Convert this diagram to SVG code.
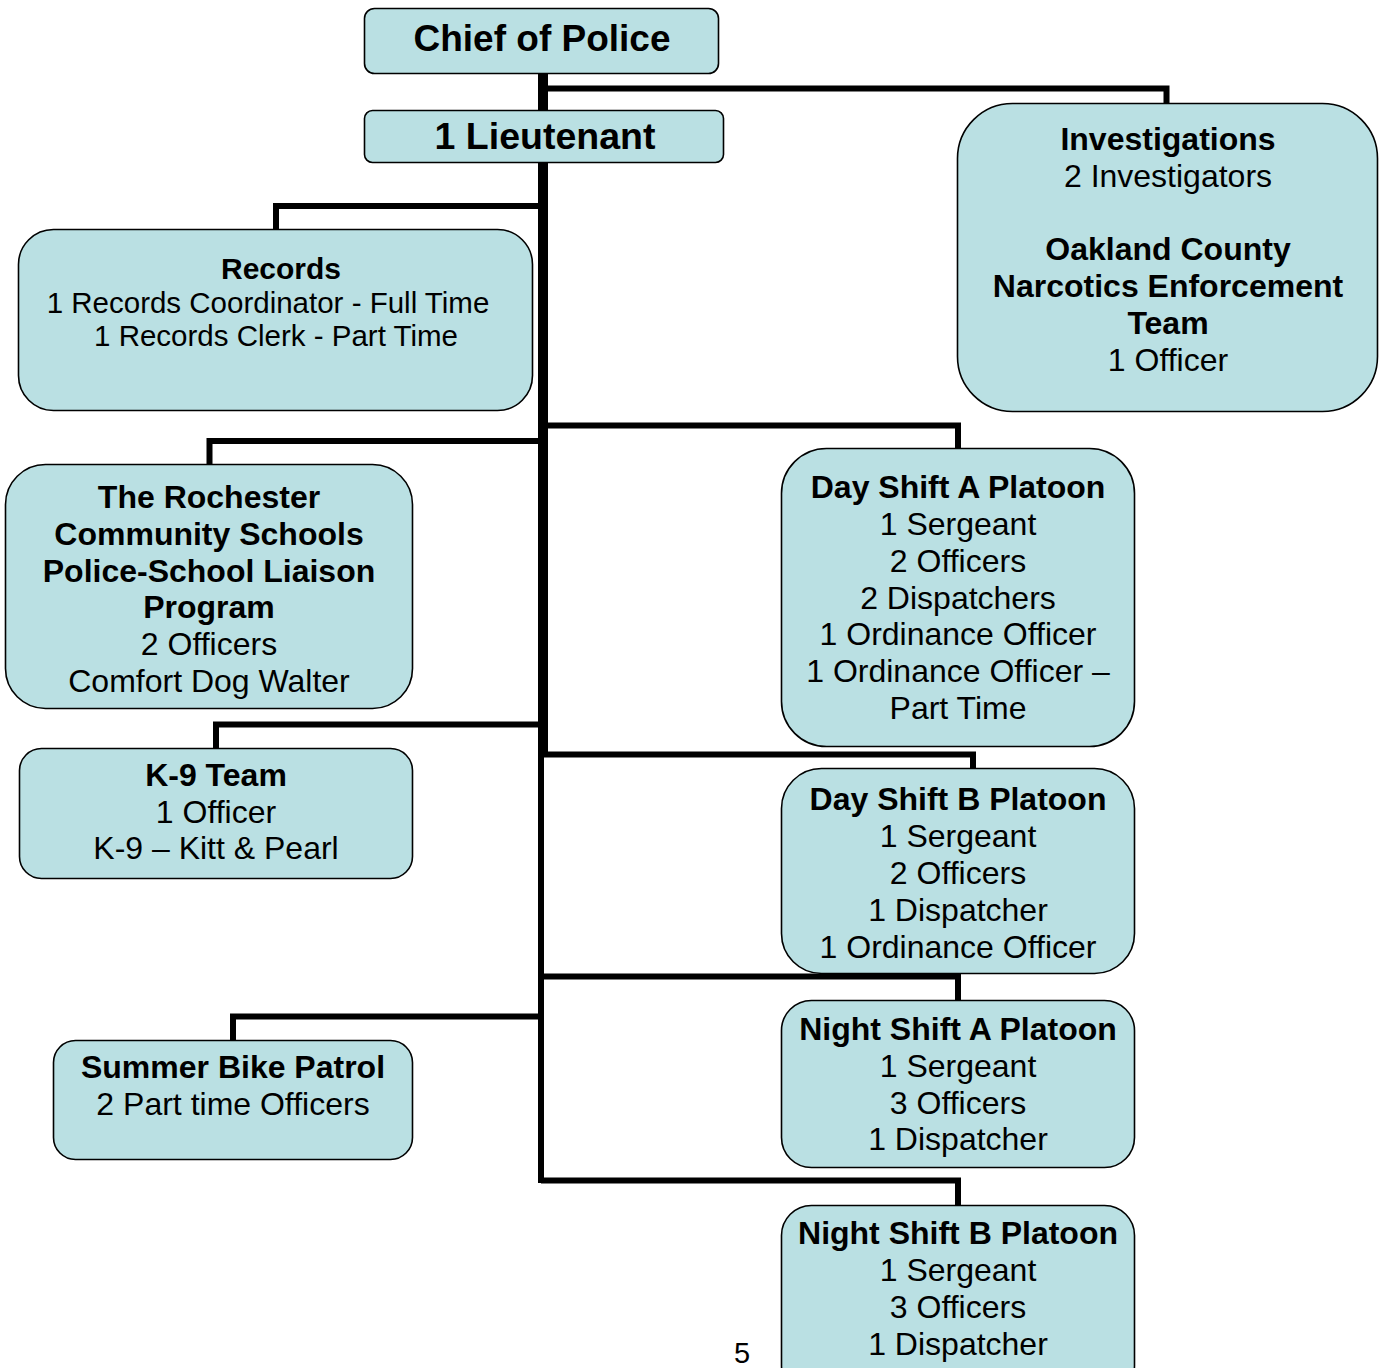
<svg xmlns="http://www.w3.org/2000/svg" width="1380" height="1368" viewBox="0 0 1380 1368">
<style>
.box{fill:#bae0e3;stroke:#000;stroke-width:1.6}
.c{stroke:#000;fill:none;stroke-width:6;stroke-linecap:butt;stroke-linejoin:miter}
text{font-family:"Liberation Sans",Arial,sans-serif;fill:#000;text-anchor:middle;font-size:32px}
.b{font-weight:bold}
.r{font-size:29.5px}
</style>
<rect width="1380" height="1368" fill="#fff"/>
<g id="connectors">
<line class="c" x1="543" y1="73" x2="543" y2="757" style="stroke-width:10"/>
<line class="c" x1="541" y1="750" x2="541" y2="1183"/>
<polyline class="c" points="543,88.5 1166.5,88.5 1166.5,104"/>
<polyline class="c" points="543,206 276,206 276,230"/>
<polyline class="c" points="543,441 209.5,441 209.5,465"/>
<polyline class="c" points="543,425.5 958,425.5 958,449"/>
<polyline class="c" points="543,724.5 216,724.5 216,749"/>
<polyline class="c" points="538,754.5 973,754.5 973,769"/>
<polyline class="c" points="538,976.5 958,976.5 958,1001"/>
<polyline class="c" points="541,1016.5 233,1016.5 233,1041"/>
<polyline class="c" points="541,1180.5 958,1180.5 958,1206"/>
</g>
<g id="chief">
<rect class="box" x="364.5" y="8.5" width="354" height="65" rx="10"/>
<text class="b" x="542" y="51" style="font-size:37px">Chief of Police</text>
</g>
<g id="lieutenant">
<rect class="box" x="364.5" y="110.5" width="359" height="52" rx="8"/>
<text class="b" x="545" y="149" style="font-size:37.5px">1 Lieutenant</text>
</g>
<g id="investigations">
<rect class="box" x="957.5" y="103.5" width="420" height="308" rx="55"/>
<text class="b" x="1168" y="150">Investigations</text>
<text x="1168" y="187">2 Investigators</text>
<text class="b" x="1168" y="260">Oakland County</text>
<text class="b" x="1168" y="297">Narcotics Enforcement</text>
<text class="b" x="1168" y="334">Team</text>
<text x="1168" y="371">1 Officer</text>
</g>
<g id="records">
<rect class="box" x="18.5" y="229.5" width="514" height="181" rx="35"/>
<text class="b" x="281" y="279" style="font-size:30px">Records</text>
<text class="r" x="268" y="313">1 Records Coordinator - Full Time</text>
<text class="r" x="276" y="346">1 Records Clerk - Part Time</text>
</g>
<g id="rochester">
<rect class="box" x="5.5" y="464.5" width="407" height="244" rx="40"/>
<text class="b" x="209" y="508">The Rochester</text>
<text class="b" x="209" y="545">Community Schools</text>
<text class="b" x="209" y="582">Police-School Liaison</text>
<text class="b" x="209" y="618">Program</text>
<text x="209" y="655">2 Officers</text>
<text x="209" y="692">Comfort Dog Walter</text>
</g>
<g id="k9">
<rect class="box" x="19.5" y="748.5" width="393" height="130" rx="22"/>
<text class="b" x="216" y="786">K-9 Team</text>
<text x="216" y="823">1 Officer</text>
<text x="216" y="859">K-9 – Kitt &amp; Pearl</text>
</g>
<g id="bike">
<rect class="box" x="53.5" y="1040.5" width="359" height="119" rx="22"/>
<text class="b" x="233" y="1078">Summer Bike Patrol</text>
<text x="233" y="1115">2 Part time Officers</text>
</g>
<g id="dayA">
<rect class="box" x="781.5" y="448.5" width="353" height="298" rx="45"/>
<text class="b" x="958" y="498">Day Shift A Platoon</text>
<text x="958" y="535">1 Sergeant</text>
<text x="958" y="572">2 Officers</text>
<text x="958" y="609">2 Dispatchers</text>
<text x="958" y="645">1 Ordinance Officer</text>
<text x="958" y="682">1 Ordinance Officer –</text>
<text x="958" y="719">Part Time</text>
</g>
<g id="dayB">
<rect class="box" x="781.5" y="768.5" width="353" height="205" rx="40"/>
<text class="b" x="958" y="810">Day Shift B Platoon</text>
<text x="958" y="847">1 Sergeant</text>
<text x="958" y="884">2 Officers</text>
<text x="958" y="921">1 Dispatcher</text>
<text x="958" y="958">1 Ordinance Officer</text>
</g>
<g id="nightA">
<rect class="box" x="781.5" y="1000.5" width="353" height="167" rx="30"/>
<text class="b" x="958" y="1040">Night Shift A Platoon</text>
<text x="958" y="1077">1 Sergeant</text>
<text x="958" y="1114">3 Officers</text>
<text x="958" y="1150">1 Dispatcher</text>
</g>
<g id="nightB">
<rect class="box" x="781.5" y="1205.5" width="353" height="190" rx="30"/>
<text class="b" x="958" y="1244">Night Shift B Platoon</text>
<text x="958" y="1281">1 Sergeant</text>
<text x="958" y="1318">3 Officers</text>
<text x="958" y="1355">1 Dispatcher</text>
</g>
<text x="742" y="1363" style="font-size:29px">5</text>
</svg>
